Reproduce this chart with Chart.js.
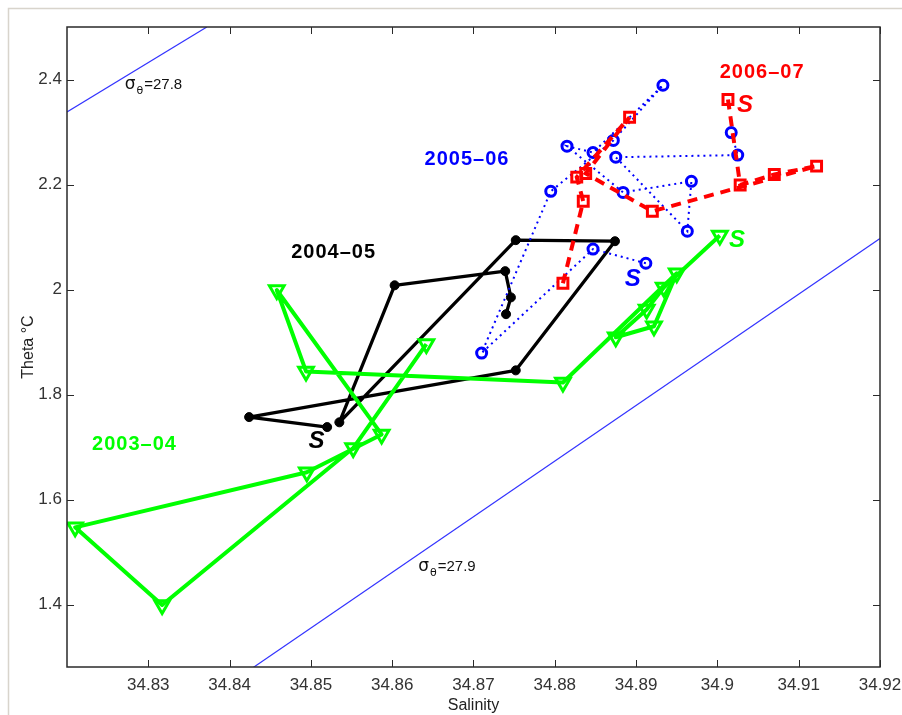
<!DOCTYPE html>
<html>
<head>
<meta charset="utf-8">
<script src="https://cdn.jsdelivr.net/npm/chart.js@4"></script>
<style>
  html, body { margin: 0; padding: 0; background: #fff; }
</style>
</head>
<body>
<canvas id="myChart" width="902" height="715"></canvas>
<script>
// salinity / theta per winter, first point = "S" (start)
const sal0304 = [34.9003, 34.8934, 34.8913, 34.8875, 34.8922, 34.8950, 34.8810, 34.8494, 34.8458, 34.8587, 34.8495, 34.8210, 34.8317, 34.8552, 34.8642];
const theta0304 = [2.103, 2.004, 1.962, 1.909, 1.930, 2.031, 1.823, 1.844, 1.999, 1.724, 1.652, 1.547, 1.399, 1.698, 1.896];

const sal0405 = [34.8520, 34.8424, 34.8752, 34.8874, 34.8752, 34.8535, 34.8603, 34.8739, 34.8746, 34.8740];
const theta0405 = [1.738, 1.757, 1.846, 2.092, 2.094, 1.747, 2.008, 2.035, 1.985, 1.953];

const sal0506 = [34.8912, 34.8847, 34.8710, 34.8795, 34.8872, 34.8933, 34.8847, 34.8815, 34.8884, 34.8968, 34.8963, 34.8875, 34.9025, 34.9017];
const theta0506 = [2.050, 2.077, 1.879, 2.187, 2.284, 2.389, 2.261, 2.273, 2.185, 2.206, 2.111, 2.252, 2.256, 2.299];

const sal0607 = [34.9013, 34.9028, 34.9070, 34.9122, 34.8920, 34.8838, 34.8892, 34.8827, 34.8835, 34.8810];
const theta0607 = [2.362, 2.199, 2.219, 2.235, 2.149, 2.221, 2.328, 2.214, 2.168, 2.012];

// potential density isolines (end points)
const sigma278Sal = [34.8200, 34.8372];
const sigma278Theta = [2.338, 2.500];
const sigma279Sal = [34.8429, 34.9200];
const sigma279Theta = [1.280, 2.097];

const xTicks = [34.83, 34.84, 34.85, 34.86, 34.87, 34.88, 34.89, 34.90, 34.91, 34.92];
const yTicks = [1.4, 1.6, 1.8, 2.0, 2.2, 2.4];

// text annotations in data units
const seasonLabels = [
  { text: "2003–04", x: 34.8283, y: 1.704, color: "#00ff00" },
  { text: "2004–05", x: 34.8528, y: 2.071, color: "#000000" },
  { text: "2005–06", x: 34.8692, y: 2.247, color: "#0000ff" },
  { text: "2006–07", x: 34.9055, y: 2.414, color: "#ff0000" }
];
const startLabels = [
  { x: 34.8507, y: 1.710, color: "#000000" },
  { x: 34.8896, y: 2.020, color: "#0000ff" },
  { x: 34.9034, y: 2.351, color: "#ff0000" },
  { x: 34.9024, y: 2.093, color: "#00ff00" }
];
const sigmaLabels = [
  { value: "27.8", x: 34.8271, y: 2.381 },
  { value: "27.9", x: 34.8632, y: 1.463 }
];

function pts(xs, ys) {
  return xs.map((x, i) => ({ x: x, y: ys[i] }));
}

const boxPlugin = {
  id: "boxPlugin",
  beforeDraw(chart) {
    const ctx = chart.ctx;
    ctx.save();
    ctx.fillStyle = "#fff";
    ctx.fillRect(0, 0, chart.width, chart.height);
    ctx.strokeStyle = "#d8d4cc";
    ctx.lineWidth = 1.5;
    ctx.beginPath();
    ctx.moveTo(8.5, chart.height);
    ctx.lineTo(8.5, 8.5);
    ctx.lineTo(chart.width, 8.5);
    ctx.stroke();
    ctx.restore();
  },
  afterDraw(chart) {
    const ctx = chart.ctx;
    const a = chart.chartArea;
    const xs = chart.scales.x;
    const ys = chart.scales.y;
    ctx.save();

    // axes box and inward ticks
    ctx.strokeStyle = "#2a2a2a";
    ctx.lineWidth = 1.5;
    ctx.strokeRect(a.left, a.top, a.right - a.left, a.bottom - a.top);
    ctx.lineWidth = 1;
    ctx.beginPath();
    xTicks.forEach((v) => {
      const px = Math.round(xs.getPixelForValue(v)) + 0.5;
      ctx.moveTo(px, a.bottom); ctx.lineTo(px, a.bottom - 7);
      ctx.moveTo(px, a.top); ctx.lineTo(px, a.top + 7);
    });
    yTicks.forEach((v) => {
      const py = Math.round(ys.getPixelForValue(v)) + 0.5;
      ctx.moveTo(a.left, py); ctx.lineTo(a.left + 7, py);
      ctx.moveTo(a.right, py); ctx.lineTo(a.right - 7, py);
    });
    ctx.stroke();

    // axis titles
    ctx.fillStyle = "#222";
    ctx.font = "16px 'Liberation Sans', Arial, sans-serif";
    ctx.textAlign = "center";
    ctx.textBaseline = "middle";
    ctx.fillText("Salinity", (a.left + a.right) / 2, 706);
    ctx.save();
    ctx.translate(29, (a.top + a.bottom) / 2);
    ctx.rotate(-Math.PI / 2);
    ctx.fillText("Theta \u00B0C", 0, 0);
    ctx.restore();

    // season labels
    ctx.font = "bold 20px 'Liberation Sans', Arial, sans-serif";
    ctx.letterSpacing = "1px";
    seasonLabels.forEach((l) => {
      ctx.fillStyle = l.color;
      ctx.fillText(l.text, xs.getPixelForValue(l.x), ys.getPixelForValue(l.y));
    });
    ctx.letterSpacing = "0px";

    // start markers
    ctx.font = "italic bold 24px 'Liberation Sans', Arial, sans-serif";
    startLabels.forEach((l) => {
      ctx.fillStyle = l.color;
      ctx.fillText("S", xs.getPixelForValue(l.x), ys.getPixelForValue(l.y));
    });

    // sigma-theta labels
    ctx.textAlign = "left";
    ctx.textBaseline = "alphabetic";
    ctx.fillStyle = "#111";
    sigmaLabels.forEach((l) => {
      let px = xs.getPixelForValue(l.x);
      const py = ys.getPixelForValue(l.y);
      ctx.font = "17px 'DejaVu Sans', sans-serif";
      ctx.fillText("\u03C3", px, py);
      px += ctx.measureText("\u03C3").width + 1;
      ctx.font = "11px 'DejaVu Sans', sans-serif";
      ctx.fillText("\u03B8", px, py + 5);
      px += ctx.measureText("\u03B8").width + 1;
      ctx.font = "15px 'Liberation Sans', Arial, sans-serif";
      ctx.fillText("=" + l.value, px, py);
    });
    ctx.restore();
  }
};

const ctx = document.getElementById("myChart").getContext("2d");
const myChart = new Chart(ctx, {
  type: "scatter",
  data: {
    datasets: [
      {
        label: "2006-07",
        data: pts(sal0607, theta0607),
        showLine: true,
        borderColor: "#ff0000",
        borderWidth: 4,
        borderDash: [10, 7],
        pointStyle: "rect",
        pointRadius: 7,
        pointBorderWidth: 3,
        pointBorderColor: "#ff0000",
        pointBackgroundColor: "rgba(255,255,255,0)",
        order: 0
      },
      {
        label: "2005-06",
        data: pts(sal0506, theta0506),
        showLine: true,
        borderColor: "#0000ff",
        borderWidth: 2,
        borderDash: [2, 4],
        pointStyle: "circle",
        pointRadius: 5,
        pointBorderWidth: 3,
        pointBorderColor: "#0000ff",
        pointBackgroundColor: "rgba(255,255,255,0)",
        order: 1
      },
      {
        label: "2003-04",
        data: pts(sal0304, theta0304),
        showLine: true,
        borderColor: "#00ff00",
        borderWidth: 4,
        borderJoinStyle: "round",
        pointStyle: "triangle",
        rotation: 180,
        pointRadius: 8.5,
        pointBorderWidth: 3,
        pointBorderColor: "#00ff00",
        pointBackgroundColor: "rgba(255,255,255,0)",
        order: 2
      },
      {
        label: "2004-05",
        data: pts(sal0405, theta0405),
        showLine: true,
        borderColor: "#000000",
        borderWidth: 3.3,
        borderJoinStyle: "round",
        pointStyle: "circle",
        pointRadius: 4.5,
        pointBorderWidth: 1,
        pointBorderColor: "#000000",
        pointBackgroundColor: "#000000",
        order: 3
      },
      {
        label: "sigma 27.8",
        data: pts(sigma278Sal, sigma278Theta),
        showLine: true,
        borderColor: "#3333ff",
        borderWidth: 1.2,
        pointRadius: 0,
        order: 4
      },
      {
        label: "sigma 27.9",
        data: pts(sigma279Sal, sigma279Theta),
        showLine: true,
        borderColor: "#3333ff",
        borderWidth: 1.2,
        pointRadius: 0,
        order: 4
      }
    ]
  },
  options: {
    responsive: false,
    animation: false,
    devicePixelRatio: 1,
    layout: { padding: { left: 0, top: 27, right: 22, bottom: 0 } },
    plugins: {
      legend: { display: false },
      tooltip: { enabled: false }
    },
    scales: {
      x: {
        type: "linear",
        min: 34.82,
        max: 34.92,
        afterFit: (s) => { s.height = 48; s.paddingLeft = 0; s.paddingRight = 0; },
        afterBuildTicks: (s) => { s.ticks = xTicks.map((v) => ({ value: v })); },
        grid: { display: false, drawTicks: false },
        border: { display: false },
        ticks: {
          padding: 8,
          color: "#333",
          font: { family: "'Liberation Sans', Arial, sans-serif", size: 17 },
          maxRotation: 0,
          autoSkip: false,
          callback: (v) => Number(v.toFixed(2)).toString()
        }
      },
      y: {
        type: "linear",
        min: 1.281,
        max: 2.5,
        afterFit: (s) => { s.width = 67; s.paddingTop = 0; s.paddingBottom = 0; },
        afterBuildTicks: (s) => { s.ticks = yTicks.map((v) => ({ value: v })); },
        grid: { display: false, drawTicks: false },
        border: { display: false },
        ticks: {
          padding: 5,
          color: "#333",
          font: { family: "'Liberation Sans', Arial, sans-serif", size: 17 },
          autoSkip: false,
          callback: (v) => Number(v.toFixed(1)).toString()
        }
      }
    }
  },
  plugins: [boxPlugin]
});
</script>
</body>
</html>
